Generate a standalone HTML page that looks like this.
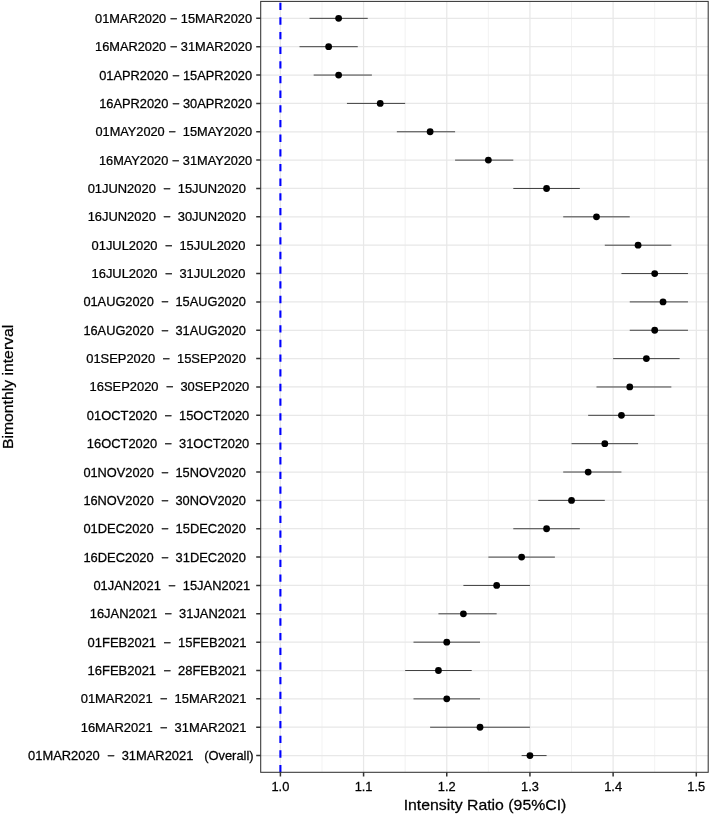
<!DOCTYPE html>
<html><head><meta charset="utf-8"><title>Intensity Ratio by bimonthly interval</title>
<style>
html,body{margin:0;padding:0;background:#fff;}
svg{display:block;}
text{font-family:"Liberation Sans",sans-serif;fill:#1a1a1a;}
.yl{font-size:12.25px;text-anchor:end;white-space:pre;}
.xl{font-size:12.25px;text-anchor:middle;}
text{stroke:#000;stroke-width:0.25px;fill:#000;}
.ti{font-size:15.12px;text-anchor:middle;fill:#000;}
</style></head><body>
<svg width="709" height="816" viewBox="0 0 709 816">
<rect width="709" height="816" fill="#fff"/>

<path d="M321.99 1.4V772.3M405.17 1.4V772.3M488.35 1.4V772.3M571.53 1.4V772.3M654.71 1.4V772.3" stroke="#ededed" stroke-width="0.7" fill="none"/>
<path d="M260.7 18.35H708.2M260.7 46.70H708.2M260.7 75.06H708.2M260.7 103.41H708.2M260.7 131.77H708.2M260.7 160.12H708.2M260.7 188.48H708.2M260.7 216.84H708.2M260.7 245.19H708.2M260.7 273.55H708.2M260.7 301.90H708.2M260.7 330.26H708.2M260.7 358.61H708.2M260.7 386.97H708.2M260.7 415.32H708.2M260.7 443.68H708.2M260.7 472.03H708.2M260.7 500.39H708.2M260.7 528.74H708.2M260.7 557.10H708.2M260.7 585.45H708.2M260.7 613.81H708.2M260.7 642.16H708.2M260.7 670.51H708.2M260.7 698.87H708.2M260.7 727.23H708.2M260.7 755.58H708.2M280.40 1.4V772.3M363.58 1.4V772.3M446.76 1.4V772.3M529.94 1.4V772.3M613.12 1.4V772.3M696.30 1.4V772.3" stroke="#e8e8e8" stroke-width="1.25" fill="none"/>
<line x1="280.4" x2="280.4" y1="772.3" y2="1.4" stroke="#0000ff" stroke-width="2.1" stroke-dasharray="7.33 7.33"/>
<line x1="309.51" x2="367.74" y1="18.35" y2="18.35" stroke="#222" stroke-width="0.85"/>
<circle cx="338.63" cy="18.35" r="3.4" fill="#000"/>
<line x1="299.53" x2="357.76" y1="46.70" y2="46.70" stroke="#222" stroke-width="0.85"/>
<circle cx="328.64" cy="46.70" r="3.4" fill="#000"/>
<line x1="313.67" x2="371.90" y1="75.06" y2="75.06" stroke="#222" stroke-width="0.85"/>
<circle cx="338.63" cy="75.06" r="3.4" fill="#000"/>
<line x1="346.94" x2="405.17" y1="103.41" y2="103.41" stroke="#222" stroke-width="0.85"/>
<circle cx="380.22" cy="103.41" r="3.4" fill="#000"/>
<line x1="396.85" x2="455.08" y1="131.77" y2="131.77" stroke="#222" stroke-width="0.85"/>
<circle cx="430.12" cy="131.77" r="3.4" fill="#000"/>
<line x1="455.08" x2="513.30" y1="160.12" y2="160.12" stroke="#222" stroke-width="0.85"/>
<circle cx="488.35" cy="160.12" r="3.4" fill="#000"/>
<line x1="513.30" x2="579.85" y1="188.48" y2="188.48" stroke="#222" stroke-width="0.85"/>
<circle cx="546.58" cy="188.48" r="3.4" fill="#000"/>
<line x1="563.21" x2="629.76" y1="216.84" y2="216.84" stroke="#222" stroke-width="0.85"/>
<circle cx="596.48" cy="216.84" r="3.4" fill="#000"/>
<line x1="604.80" x2="671.35" y1="245.19" y2="245.19" stroke="#222" stroke-width="0.85"/>
<circle cx="638.07" cy="245.19" r="3.4" fill="#000"/>
<line x1="621.44" x2="687.98" y1="273.55" y2="273.55" stroke="#222" stroke-width="0.85"/>
<circle cx="654.71" cy="273.55" r="3.4" fill="#000"/>
<line x1="629.76" x2="687.98" y1="301.90" y2="301.90" stroke="#222" stroke-width="0.85"/>
<circle cx="663.03" cy="301.90" r="3.4" fill="#000"/>
<line x1="629.76" x2="687.98" y1="330.26" y2="330.26" stroke="#222" stroke-width="0.85"/>
<circle cx="654.71" cy="330.26" r="3.4" fill="#000"/>
<line x1="613.12" x2="679.66" y1="358.61" y2="358.61" stroke="#222" stroke-width="0.85"/>
<circle cx="646.39" cy="358.61" r="3.4" fill="#000"/>
<line x1="596.48" x2="671.35" y1="386.97" y2="386.97" stroke="#222" stroke-width="0.85"/>
<circle cx="629.76" cy="386.97" r="3.4" fill="#000"/>
<line x1="588.17" x2="654.71" y1="415.32" y2="415.32" stroke="#222" stroke-width="0.85"/>
<circle cx="621.44" cy="415.32" r="3.4" fill="#000"/>
<line x1="571.53" x2="638.07" y1="443.68" y2="443.68" stroke="#222" stroke-width="0.85"/>
<circle cx="604.80" cy="443.68" r="3.4" fill="#000"/>
<line x1="563.21" x2="621.44" y1="472.03" y2="472.03" stroke="#222" stroke-width="0.85"/>
<circle cx="588.17" cy="472.03" r="3.4" fill="#000"/>
<line x1="538.26" x2="604.80" y1="500.39" y2="500.39" stroke="#222" stroke-width="0.85"/>
<circle cx="571.53" cy="500.39" r="3.4" fill="#000"/>
<line x1="513.30" x2="579.85" y1="528.74" y2="528.74" stroke="#222" stroke-width="0.85"/>
<circle cx="546.58" cy="528.74" r="3.4" fill="#000"/>
<line x1="488.35" x2="554.89" y1="557.10" y2="557.10" stroke="#222" stroke-width="0.85"/>
<circle cx="521.62" cy="557.10" r="3.4" fill="#000"/>
<line x1="463.40" x2="529.94" y1="585.45" y2="585.45" stroke="#222" stroke-width="0.85"/>
<circle cx="496.67" cy="585.45" r="3.4" fill="#000"/>
<line x1="438.44" x2="496.67" y1="613.81" y2="613.81" stroke="#222" stroke-width="0.85"/>
<circle cx="463.40" cy="613.81" r="3.4" fill="#000"/>
<line x1="413.49" x2="480.03" y1="642.16" y2="642.16" stroke="#222" stroke-width="0.85"/>
<circle cx="446.76" cy="642.16" r="3.4" fill="#000"/>
<line x1="405.17" x2="471.71" y1="670.51" y2="670.51" stroke="#222" stroke-width="0.85"/>
<circle cx="438.44" cy="670.51" r="3.4" fill="#000"/>
<line x1="413.49" x2="480.03" y1="698.87" y2="698.87" stroke="#222" stroke-width="0.85"/>
<circle cx="446.76" cy="698.87" r="3.4" fill="#000"/>
<line x1="430.12" x2="529.94" y1="727.23" y2="727.23" stroke="#222" stroke-width="0.85"/>
<circle cx="480.03" cy="727.23" r="3.4" fill="#000"/>
<line x1="521.62" x2="546.58" y1="755.58" y2="755.58" stroke="#222" stroke-width="0.85"/>
<circle cx="529.94" cy="755.58" r="3.4" fill="#000"/>
<rect x="260.7" y="1.4" width="447.50" height="770.90" fill="none" stroke="#333" stroke-width="1.05"/>
<path d="M256.20 18.35H260.7M256.20 46.70H260.7M256.20 75.06H260.7M256.20 103.41H260.7M256.20 131.77H260.7M256.20 160.12H260.7M256.20 188.48H260.7M256.20 216.84H260.7M256.20 245.19H260.7M256.20 273.55H260.7M256.20 301.90H260.7M256.20 330.26H260.7M256.20 358.61H260.7M256.20 386.97H260.7M256.20 415.32H260.7M256.20 443.68H260.7M256.20 472.03H260.7M256.20 500.39H260.7M256.20 528.74H260.7M256.20 557.10H260.7M256.20 585.45H260.7M256.20 613.81H260.7M256.20 642.16H260.7M256.20 670.51H260.7M256.20 698.87H260.7M256.20 727.23H260.7M256.20 755.58H260.7M280.40 772.3v4.2M363.58 772.3v4.2M446.76 772.3v4.2M529.94 772.3v4.2M613.12 772.3v4.2M696.30 772.3v4.2" stroke="#333" stroke-width="1.5" fill="none"/>
<text class="yl" xml:space="preserve" transform="translate(252.1,22.85) scale(1.047,1)">01MAR2020 − 15MAR2020</text>
<text class="yl" xml:space="preserve" transform="translate(252.1,51.20) scale(1.047,1)">16MAR2020 − 31MAR2020</text>
<text class="yl" xml:space="preserve" transform="translate(252.1,79.56) scale(1.0484,1)">01APR2020 − 15APR2020</text>
<text class="yl" xml:space="preserve" transform="translate(252.1,107.91) scale(1.0484,1)">16APR2020 − 30APR2020</text>
<text class="yl" xml:space="preserve" transform="translate(252.1,136.27) scale(1.043,1)">01MAY2020 −  15MAY2020</text>
<text class="yl" xml:space="preserve" transform="translate(252.1,164.62) scale(1.043,1)">16MAY2020 − 31MAY2020</text>
<text class="yl" xml:space="preserve" transform="translate(245.9,192.98) scale(1.055,1)">01JUN2020  −  15JUN2020</text>
<text class="yl" xml:space="preserve" transform="translate(245.9,221.34) scale(1.055,1)">16JUN2020  −  30JUN2020</text>
<text class="yl" xml:space="preserve" transform="translate(245.4,249.69) scale(1.0532,1)">01JUL2020  −  15JUL2020</text>
<text class="yl" xml:space="preserve" transform="translate(245.4,278.05) scale(1.0532,1)">16JUL2020  −  31JUL2020</text>
<text class="yl" xml:space="preserve" transform="translate(245.9,306.40) scale(1.0457,1)">01AUG2020  −  15AUG2020</text>
<text class="yl" xml:space="preserve" transform="translate(245.9,334.76) scale(1.0457,1)">16AUG2020  −  31AUG2020</text>
<text class="yl" xml:space="preserve" transform="translate(245.9,363.11) scale(1.0546,1)">01SEP2020  −  15SEP2020</text>
<text class="yl" xml:space="preserve" transform="translate(249.3,391.47) scale(1.0546,1)">16SEP2020  −  30SEP2020</text>
<text class="yl" xml:space="preserve" transform="translate(249.3,419.82) scale(1.0538,1)">01OCT2020  −  15OCT2020</text>
<text class="yl" xml:space="preserve" transform="translate(249.3,448.18) scale(1.0538,1)">16OCT2020  −  31OCT2020</text>
<text class="yl" xml:space="preserve" transform="translate(245.9,476.53) scale(1.0457,1)">01NOV2020  −  15NOV2020</text>
<text class="yl" xml:space="preserve" transform="translate(245.9,504.89) scale(1.0457,1)">16NOV2020  −  30NOV2020</text>
<text class="yl" xml:space="preserve" transform="translate(245.9,533.24) scale(1.0538,1)">01DEC2020  −  15DEC2020</text>
<text class="yl" xml:space="preserve" transform="translate(245.9,561.60) scale(1.0538,1)">16DEC2020  −  31DEC2020</text>
<text class="yl" xml:space="preserve" transform="translate(250.2,589.95) scale(1.0541,1)">01JAN2021  −  15JAN2021</text>
<text class="yl" xml:space="preserve" transform="translate(246.5,618.31) scale(1.0541,1)">16JAN2021  −  31JAN2021</text>
<text class="yl" xml:space="preserve" transform="translate(246.5,646.66) scale(1.0584,1)">01FEB2021  −  15FEB2021</text>
<text class="yl" xml:space="preserve" transform="translate(246.5,675.01) scale(1.0584,1)">16FEB2021  −  28FEB2021</text>
<text class="yl" xml:space="preserve" transform="translate(246.5,703.37) scale(1.0572,1)">01MAR2021  −  15MAR2021</text>
<text class="yl" xml:space="preserve" transform="translate(246.5,731.73) scale(1.0572,1)">16MAR2021  −  31MAR2021</text>
<text class="yl" xml:space="preserve" transform="translate(253.6,760.08) scale(1.054,1)">01MAR2020  −  31MAR2021   (Overall)</text>
<text class="xl" transform="translate(280.40,791) scale(1.05,1)">1.0</text>
<text class="xl" transform="translate(363.58,791) scale(1.05,1)">1.1</text>
<text class="xl" transform="translate(446.76,791) scale(1.05,1)">1.2</text>
<text class="xl" transform="translate(529.94,791) scale(1.05,1)">1.3</text>
<text class="xl" transform="translate(613.12,791) scale(1.05,1)">1.4</text>
<text class="xl" transform="translate(696.30,791) scale(1.05,1)">1.5</text>
<text class="ti" transform="translate(485.0,809.9) scale(1.0475,1)">Intensity Ratio (95%CI)</text>
<text class="ti" style="font-size:15px" transform="translate(13.2,386.9) rotate(-90) scale(1.051,1)">Bimonthly interval</text>
</svg></body></html>
